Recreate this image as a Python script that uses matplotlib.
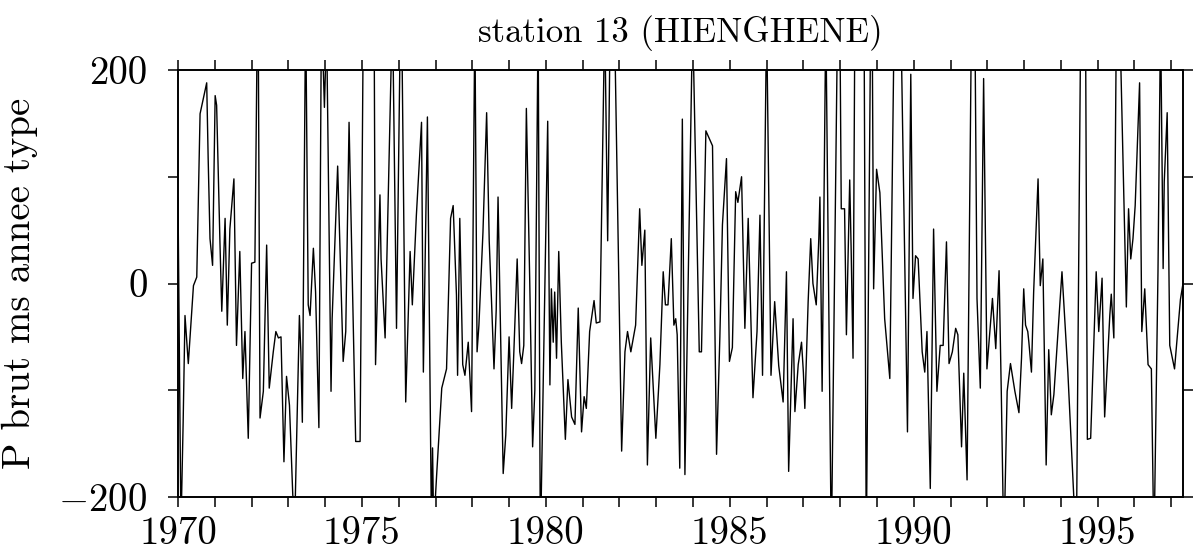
import matplotlib
matplotlib.use("Agg")
import matplotlib.pyplot as plt
from matplotlib.ticker import FixedLocator, FixedFormatter

# monthly anomaly, station 13 (values past +-200 are clipped)
years = [
    1970.00, 1970.08, 1970.14, 1970.19, 1970.28, 1970.42, 1970.51, 1970.55, 1970.60, 1970.78,
    1970.82, 1970.87, 1970.94, 1971.01, 1971.05, 1971.14, 1971.19, 1971.28, 1971.34, 1971.41,
    1971.52, 1971.59, 1971.68, 1971.76, 1971.82, 1971.91, 1972.00, 1972.09, 1972.16, 1972.18,
    1972.23, 1972.32, 1972.41, 1972.48, 1972.59, 1972.66, 1972.73, 1972.80, 1972.88, 1972.95,
    1973.03, 1973.12, 1973.18, 1973.30, 1973.34, 1973.38, 1973.47, 1973.54, 1973.59, 1973.68,
    1973.74, 1973.83, 1973.90, 1973.98, 1974.04, 1974.16, 1974.19, 1974.34, 1974.49, 1974.56,
    1974.65, 1974.83, 1974.95, 1975.04, 1975.20, 1975.33, 1975.37, 1975.49, 1975.52, 1975.63,
    1975.83, 1975.94, 1976.05, 1976.08, 1976.19, 1976.31, 1976.37, 1976.48, 1976.62, 1976.67,
    1976.78, 1976.89, 1976.92, 1976.95, 1977.03, 1977.17, 1977.30, 1977.41, 1977.48, 1977.57,
    1977.60, 1977.66, 1977.74, 1977.80, 1977.89, 1977.98, 1978.07, 1978.13, 1978.18, 1978.29,
    1978.39, 1978.46, 1978.52, 1978.59, 1978.65, 1978.70, 1978.84, 1978.91, 1979.00, 1979.07,
    1979.13, 1979.22, 1979.29, 1979.34, 1979.40, 1979.47, 1979.56, 1979.64, 1979.70, 1979.79,
    1979.85, 1980.05, 1980.11, 1980.15, 1980.20, 1980.24, 1980.29, 1980.35, 1980.42, 1980.53,
    1980.60, 1980.70, 1980.79, 1980.88, 1980.97, 1981.04, 1981.10, 1981.19, 1981.31, 1981.37,
    1981.47, 1981.60, 1981.68, 1981.75, 1981.85, 1982.06, 1982.15, 1982.22, 1982.31, 1982.44,
    1982.55, 1982.61, 1982.69, 1982.76, 1982.85, 1982.99, 1983.10, 1983.19, 1983.25, 1983.32,
    1983.41, 1983.44, 1983.48, 1983.53, 1983.57, 1983.64, 1983.71, 1983.78, 1983.99, 1984.17,
    1984.23, 1984.35, 1984.53, 1984.64, 1984.73, 1984.80, 1984.91, 1984.99, 1985.07, 1985.16,
    1985.22, 1985.32, 1985.41, 1985.50, 1985.63, 1985.74, 1985.82, 1985.89, 1986.00, 1986.12,
    1986.22, 1986.33, 1986.45, 1986.54, 1986.60, 1986.72, 1986.77, 1986.86, 1986.95, 1987.00,
    1987.04, 1987.13, 1987.20, 1987.26, 1987.35, 1987.42, 1987.45, 1987.51, 1987.61, 1987.76,
    1987.93, 1987.99, 1988.03, 1988.12, 1988.17, 1988.26, 1988.30, 1988.35, 1988.40, 1988.52,
    1988.65, 1988.71, 1988.83, 1988.87, 1988.91, 1988.99, 1989.08, 1989.21, 1989.35, 1989.47,
    1989.65, 1989.83, 1989.92, 1989.98, 1990.05, 1990.12, 1990.23, 1990.30, 1990.36, 1990.45,
    1990.54, 1990.63, 1990.72, 1990.80, 1990.89, 1990.96, 1991.05, 1991.14, 1991.20, 1991.30,
    1991.36, 1991.45, 1991.57, 1991.66, 1991.72, 1991.81, 1991.90, 1991.99, 1992.07, 1992.14,
    1992.23, 1992.32, 1992.38, 1992.45, 1992.54, 1992.63, 1992.75, 1992.86, 1992.93, 1992.99,
    1993.04, 1993.10, 1993.13, 1993.20, 1993.26, 1993.38, 1993.44, 1993.51, 1993.60, 1993.67,
    1993.74, 1993.81, 1994.03, 1994.19, 1994.42, 1994.54, 1994.67, 1994.72, 1994.81, 1994.96,
    1995.03, 1995.12, 1995.19, 1995.33, 1995.37, 1995.44, 1995.51, 1995.60, 1995.78, 1995.84,
    1995.90, 1995.96, 1996.02, 1996.14, 1996.20, 1996.28, 1996.37, 1996.46, 1996.53, 1996.64,
    1996.71, 1996.78, 1996.81, 1996.89, 1996.96, 1997.09, 1997.25, 1997.32, 1997.33,
]
values = [
    80, -230, -130, -30, -75, -2, 6, 73, 159, 188,
    117, 42, 17, 176, 167, 39, -26, 61, -39, 51,
    98, -58, 30, -89, -45, -145, 19, 20, 260, 250,
    -126, -101, 36, -98, -64, -45, -51, -50, -167, -87,
    -114, -198, -215, -30, -64, -130, 260, -20, -30, 33,
    -8, -135, 260, 165, 240, -101, -33, 110, -73, -45,
    151, -148, -148, 260, 300, 260, -76, 83, 23, -51,
    260, -42, 260, 250, -111, 30, -20, 64, 151, -83,
    156, -230, -154, -230, -180, -98, -80, 61, 73, -11,
    -86, 61, -76, -86, -55, -120, 250, -64, -39, 48,
    160, 40, -14, -80, -25, 81, -178, -142, -50, -117,
    -64, 23, -64, -75, -58, 164, 5, -153, -100, 250,
    -250, 152, -95, -5, -55, -8, -70, 30, -55, -146,
    -90, -125, -132, -23, -139, -106, -117, -45, -16, -37,
    -36, 250, 40, 250, 280, -157, -64, -45, -64, -39,
    70, 17, 50, -170, -51, -145, -76, 11, -20, -20,
    42, 8, -39, -33, -48, -173, 154, -179, 250, -64,
    -64, 143, 129, -160, -50, 55, 117, -73, -60, 86,
    76, 100, -42, 61, -107, -45, 64, -86, 250, -86,
    -17, -77, -111, 11, -176, -33, -120, -76, -55, -83,
    -117, -17, 42, 0, -20, 42, 81, -101, 250, -250,
    250, 260, 70, 70, -48, 97, 30, -70, 250, 300,
    250, -250, 250, 250, -5, 107, 85, -33, -89, 250,
    250, -139, 196, -14, 26, 23, -64, -83, -45, -192,
    51, -101, -58, -58, 39, -75, -64, -42, -48, -153,
    -84, -184, 250, 260, -14, -98, 192, -80, -45, -14,
    -61, 12, -101, -250, -101, -75, -101, -121, -70, -5,
    -39, -45, -55, -83, -8, 98, -2, 23, -170, -62,
    -123, -104, 11, -83, -250, 250, 250, -146, -145, 11,
    -45, 5, -125, -30, -10, -51, 250, 250, -22, 70,
    23, 42, 73, 188, -45, -5, -76, -80, -250, 11,
    250, 14, 95, 160, -58, -80, -15, 0, -130,
]

xticks_major = list(range(1970, 1998))
xtick_labels = [1970, 1975, 1980, 1985, 1990, 1995]
yticks_major = [-200, 0, 200]
yticks_minor = [-100, 100]

plt.rcParams['font.family'] = ['cmr10', 'DejaVu Serif']
plt.rcParams['mathtext.fontset'] = 'cm'

fig = plt.figure(figsize=(11.96, 5.57), dpi=100)
ax = fig.add_axes([178 / 1196, 1 - 497 / 557, 1005 / 1196, 427 / 557])

ax.plot(years, values, color='black', lw=1.0)

ax.set_xlim(1970, 1997.32)
ax.set_ylim(-200, 200)

ax.xaxis.set_major_locator(FixedLocator(xticks_major))
ax.xaxis.set_major_formatter(FixedFormatter([str(y) if y in xtick_labels else '' for y in xticks_major]))
ax.yaxis.set_major_locator(FixedLocator(yticks_major))
ax.yaxis.set_major_formatter(FixedFormatter(['$-$200', '0', '200']))
ax.yaxis.set_minor_locator(FixedLocator(yticks_minor))

ax.tick_params(axis='x', which='major', direction='out', length=7, width=1.1,
               top=True, labelsize=28, pad=7)
ax.tick_params(axis='y', which='both', direction='out', length=7, width=1.1,
               right=True, labelsize=28, pad=15)
for s in ax.spines.values():
    s.set_linewidth(1.4)

ax.set_title('station 13 (HIENGHENE)', fontsize=25, pad=20)
ax.set_ylabel('P brut ms annee type', fontsize=28)
ax.yaxis.set_label_coords(-0.139, 0.5)

plt.savefig('out.png', dpi=100)
